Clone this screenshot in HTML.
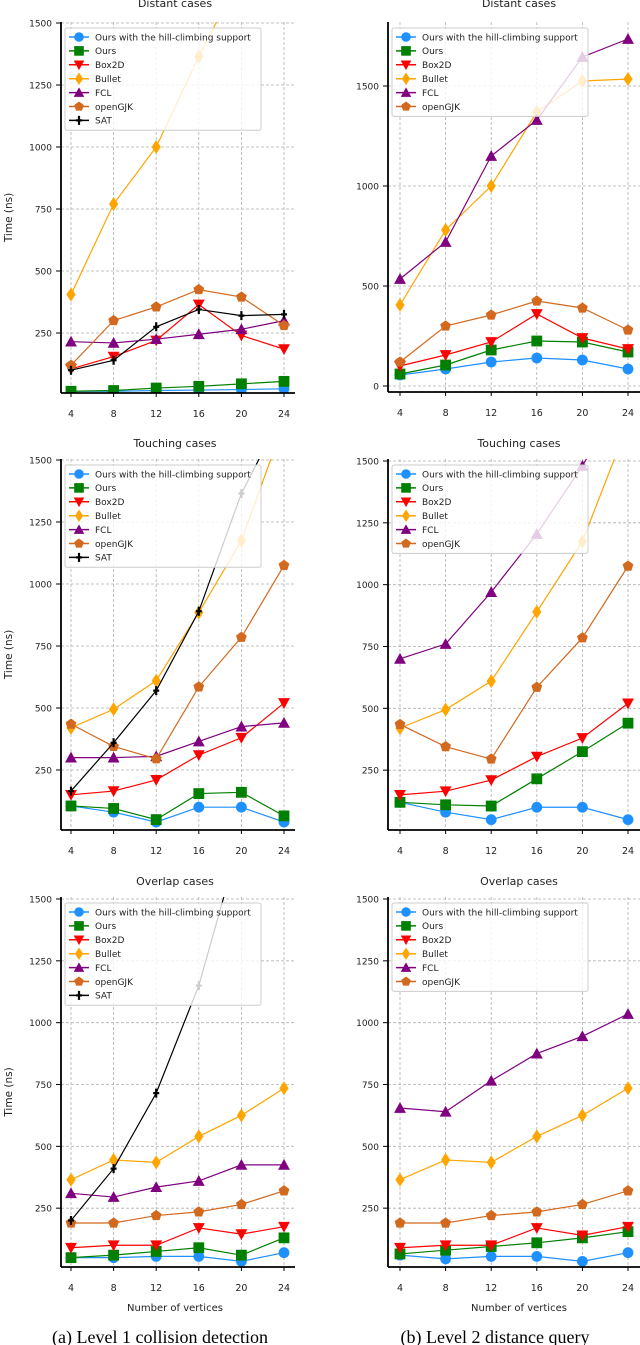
<!DOCTYPE html>
<html><head><meta charset="utf-8">
<style>
html,body{margin:0;padding:0;background:#fff;}
svg{display:block;font-family:"DejaVu Sans","Liberation Sans",sans-serif;}
</style></head>
<body>
<svg id="fig" width="640" height="1345" viewBox="0 0 640 1345" xmlns="http://www.w3.org/2000/svg">
<text x="160" y="1343" font-family="Liberation Serif,serif" font-size="18" text-anchor="middle">(a) Level 1 collision detection</text>
<text x="495" y="1343" font-family="Liberation Serif,serif" font-size="18" text-anchor="middle">(b) Level 2 distance query</text>
</svg>
<script>
const categories = [4, 8, 12, 16, 20, 24];
const seriesNames = ["Ours with the hill-climbing support","Ours","Box2D","Bullet","FCL","openGJK","SAT"];
const tickLabelsMain = [250, 500, 750, 1000, 1250, 1500];
const tickLabelsDistTop = [0, 500, 1000, 1500];
// panel 1: collision distant
const p1Hill=[15,15,18,20,22,25];
const p1Ours=[15,18,28,35,45,55];
const p1Box=[105,155,220,365,240,185];
const p1Bullet=[405,770,1000,1365,1700,1850];
const p1FCL=[215,210,225,245,265,300];
const p1GJK=[120,300,355,425,395,280];
const p1SAT=[100,140,275,345,320,325];
// panel 2: distance distant
const p2Hill=[55,85,120,140,130,85];
const p2Ours=[60,105,180,225,220,170];
const p2Box=[100,155,220,360,240,185];
const p2Bullet=[405,780,1000,1370,1525,1535];
const p2FCL=[535,720,1150,1330,1645,1735];
const p2GJK=[120,300,355,425,390,280];
// panel 3: collision touching
const p3Hill=[105,80,40,100,100,40];
const p3Ours=[105,95,50,155,160,65];
const p3Box=[150,165,210,310,380,520];
const p3Bullet=[420,495,610,885,1175,1650];
const p3FCL=[300,300,305,365,425,440];
const p3GJK=[435,345,295,585,785,1075];
const p3SAT=[165,360,570,890,1365,1700];
// panel 4: distance touching
const p4Hill=[120,80,50,100,100,50];
const p4Ours=[120,110,105,215,325,440];
const p4Box=[150,165,210,305,380,520];
const p4Bullet=[420,495,610,890,1175,1650];
const p4FCL=[700,760,970,1205,1480,1800];
const p4GJK=[435,345,295,585,785,1075];
// panel 5: collision overlap
const p5Hill=[50,50,55,55,35,70];
const p5Ours=[50,60,75,90,60,130];
const p5Box=[90,100,100,170,145,175];
const p5Bullet=[365,445,435,540,625,735];
const p5FCL=[310,295,335,360,425,425];
const p5GJK=[190,190,220,235,265,320];
const p5SAT=[200,410,715,1150,1760,2300];
// panel 6: distance overlap
const p6Hill=[60,45,55,55,35,70];
const p6Ours=[65,80,95,110,130,155];
const p6Box=[90,100,100,170,140,175];
const p6Bullet=[365,445,435,540,625,735];
const p6FCL=[655,640,765,875,945,1035];
const p6GJK=[190,190,220,235,265,320];

const colors=["#1e90ff","#008000","#ff0000","#ffa500","#800080","#d2691e","#000000"];
const markers=["circle","square","vdown","diamond","tri","pent","plus"];
const NS="http://www.w3.org/2000/svg";
const svg=document.getElementById('fig');
function mk(tag,attrs,parent){const e=document.createElementNS(NS,tag);for(const k in attrs)e.setAttribute(k,attrs[k]);(parent||svg).appendChild(e);return e;}

const panels=[
 {id:'p1',title:'Distant cases',L:61,R:295,T:22,B:393,x4:71,x24:284,v0:395,v1500:23,ticks:tickLabelsMain,ylab:true,series:[p1Hill,p1Ours,p1Box,p1Bullet,p1FCL,p1GJK,p1SAT],ty:7},
 {id:'p2',title:'Distant cases',L:388,R:640,T:22,B:392,x4:400,x24:628,v0:386,v1500:86,ticks:tickLabelsDistTop,ylab:false,series:[p2Hill,p2Ours,p2Box,p2Bullet,p2FCL,p2GJK],ty:7},
 {id:'p3',title:'Touching cases',L:61,R:295,T:459,B:830,x4:71,x24:284,v0:832,v1500:460,ticks:tickLabelsMain,ylab:true,series:[p3Hill,p3Ours,p3Box,p3Bullet,p3FCL,p3GJK,p3SAT],ty:447},
 {id:'p4',title:'Touching cases',L:388,R:640,T:459,B:830,x4:400,x24:628,v0:832,v1500:461,ticks:tickLabelsMain,ylab:false,series:[p4Hill,p4Ours,p4Box,p4Bullet,p4FCL,p4GJK],ty:447},
 {id:'p5',title:'Overlap cases',L:61,R:295,T:897,B:1267,x4:71,x24:284,v0:1270,v1500:899,ticks:tickLabelsMain,ylab:true,series:[p5Hill,p5Ours,p5Box,p5Bullet,p5FCL,p5GJK,p5SAT],ty:885,xlab:true},
 {id:'p6',title:'Overlap cases',L:388,R:640,T:897,B:1267,x4:400,x24:628,v0:1270,v1500:899,ticks:tickLabelsMain,ylab:false,series:[p6Hill,p6Ours,p6Box,p6Bullet,p6FCL,p6GJK],ty:885,xlab:true}
];

function marker(g,type,x,y,c,s){
  s=s||5.4;
  if(type==='circle') return mk('circle',{cx:x,cy:y,r:s,fill:c},g);
  if(type==='square') return mk('rect',{x:x-s,y:y-s,width:2*s,height:2*s,fill:c},g);
  if(type==='vdown') return mk('polygon',{points:`${x-s*1.1},${y-s*0.9} ${x+s*1.1},${y-s*0.9} ${x},${y+s*1.1}`,fill:c},g);
  if(type==='tri') return mk('polygon',{points:`${x-s*1.1},${y+s*0.9} ${x+s*1.1},${y+s*0.9} ${x},${y-s*1.1}`,fill:c},g);
  if(type==='diamond') return mk('polygon',{points:`${x},${y-s*1.3} ${x+s*0.85},${y} ${x},${y+s*1.3} ${x-s*0.85},${y}`,fill:c},g);
  if(type==='pent'){let p=[];for(let i=0;i<5;i++){const a=-Math.PI/2+i*2*Math.PI/5;p.push((x+s*1.05*Math.cos(a))+','+(y+s*1.05*Math.sin(a)));}return mk('polygon',{points:p.join(' '),fill:c},g);}
  if(type==='plus'){return mk('path',{d:`M${x-3},${y}H${x+3}M${x},${y-4.5}V${y+4.5}`,stroke:c,'stroke-width':2.2},g);}
}

panels.forEach((p,pi)=>{
  const g=mk('g',{});
  
  
  const xs=v=>p.x4+(v-4)*(p.x24-p.x4)/20;
  const ys=v=>p.v0+(v)*(p.v1500-p.v0)/1500;
  const cp=mk('clipPath',{id:'clip'+p.id},g);
  mk('rect',{x:p.L,y:p.T,width:p.R-p.L,height:p.B-p.T},cp);
  const t=mk('text',{x:(p.L+p.R)/2+(pi%2?5:-3),y:p.ty,'font-size':11,'text-anchor':'middle',fill:'#222'},g);
  t.textContent=p.title;
  
  
  categories.forEach(c=>{
    const l=mk('line',{x1:xs(c),x2:xs(c),y1:p.T,y2:p.B,stroke:'#b0b0b0','stroke-width':0.8,'stroke-dasharray':'3,2'},g);
    
    
    mk('line',{x1:xs(c),x2:xs(c),y1:p.B,y2:p.B+4,stroke:'#000','stroke-width':1},g);
    const tl=mk('text',{x:xs(c),y:p.B+24,'font-size':9.5,'text-anchor':'middle',fill:'#222'},g);
    tl.textContent=c;
    
    
  });
  p.ticks.forEach(v=>{
    const y=ys(v);
    const l=mk('line',{x1:p.L,x2:p.R,y1:y,y2:y,stroke:'#b0b0b0','stroke-width':0.8,'stroke-dasharray':'3,2'},g);
    
    
    mk('line',{x1:p.L-5,x2:p.L,y1:y,y2:y,stroke:'#000','stroke-width':1},g);
    const tl=mk('text',{x:p.L-9,y:y+3.5,'font-size':9,'text-anchor':'end',fill:'#222'},g);
    tl.textContent=v;
    
    
  });
  const sg=mk('g',{'clip-path':`url(#clip${p.id})`},g);
  p.series.forEach((arr,si)=>{
    const c=colors[si];
    const pts=arr.map((v,i)=>xs(categories[i])+','+ys(v)).join(' ');
    const pl=mk('polyline',{points:pts,fill:'none',stroke:c,'stroke-width':1.2},sg);
    
    
    arr.forEach((v,i)=>{
      const m=marker(sg,markers[si],xs(categories[i]),ys(v),c);
      
      
    });
  });
  mk('line',{x1:p.L,x2:p.L,y1:p.T,y2:p.B,stroke:'#000','stroke-width':1.8},g);
  mk('line',{x1:p.L,x2:p.R,y1:p.B,y2:p.B,stroke:'#000','stroke-width':1.8},g);
  const n=p.series.length;
  const lx=p.L+4, ly=p.T+6, lw=196, lh=n*13.9+5;
  const lg=mk('g',{},g);
  
  
  mk('rect',{x:lx,y:ly,width:lw,height:lh,fill:'#fff','fill-opacity':0.8,stroke:'#ccc','stroke-width':1,rx:2},lg);
  for(let i=0;i<n;i++){
    const yy=ly+9+i*13.9;
    const eg=mk('g',{},lg);
    
    
    mk('line',{x1:lx+4,x2:lx+24,y1:yy,y2:yy,stroke:colors[i],'stroke-width':1.5},eg);
    marker(eg,markers[i],lx+14,yy,colors[i],4.8);
    const tx=mk('text',{x:lx+30,y:yy+3.3,'font-size':9,fill:'#222'},eg);
    tx.textContent=seriesNames[i];
  }
  if(p.ylab){
    const yl=mk('text',{x:0,y:0,'font-size':10.5,'text-anchor':'middle',fill:'#222',transform:`translate(12,${(p.T+p.B)/2+10}) rotate(-90)`},g);
    yl.textContent='Time (ns)';
    
    
  }
  if(p.xlab){
    const xl=mk('text',{x:(p.L+p.R)/2+(pi%2?5:-3),y:p.B+44,'font-size':10,'text-anchor':'middle',fill:'#222'},g);
    xl.textContent='Number of vertices';
    
    
  }
});
</script>
</body></html>
